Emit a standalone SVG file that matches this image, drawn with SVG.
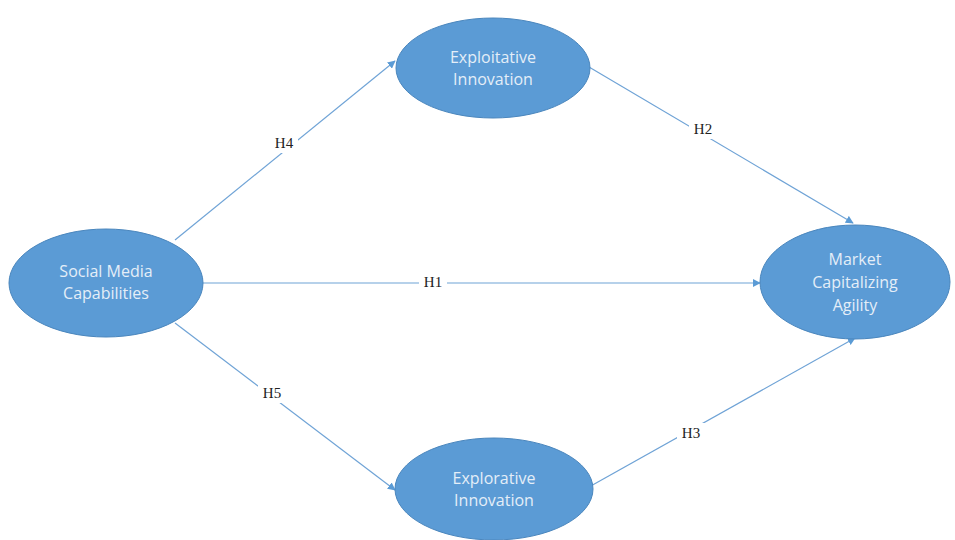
<svg xmlns="http://www.w3.org/2000/svg" width="955" height="540" viewBox="0 0 955 540">
<style>
.node{fill:#5b9bd5;stroke:#4a86bd;stroke-width:1}
.nt{font-family:"Open Sans","Liberation Sans",sans-serif;font-size:16px;fill:#e4eef8;text-anchor:middle}
.edge{stroke:#6fa3d6;stroke-width:1.2;fill:none;marker-end:url(#ah)}
.lb{font-family:"Liberation Serif",serif;font-size:15px;fill:#222;text-anchor:middle}
.bg{fill:#fff}
</style>
<defs>
<marker id="ah" viewBox="0 0 10 10" refX="9" refY="5" markerWidth="8" markerHeight="8" markerUnits="userSpaceOnUse" orient="auto">
<path d="M0,0 L10,5 L0,10 z" fill="#5b9bd5"/>
</marker>
</defs>
<rect width="955" height="540" fill="#fff"/>
<g id="connectors">
<line class="edge" x1="175" y1="240" x2="395" y2="61"/>
<line class="edge" x1="589" y1="67" x2="853" y2="223"/>
<line class="edge" x1="203" y1="283" x2="760" y2="283"/>
<line class="edge" x1="175" y1="323" x2="395" y2="490"/>
<line class="edge" x1="589" y1="487" x2="855" y2="338"/>
<rect class="bg" x="270" y="133" width="28" height="20"/>
<rect class="bg" x="689" y="119" width="28" height="20"/>
<rect class="bg" x="419" y="272" width="28" height="20"/>
<rect class="bg" x="258" y="383" width="28" height="20"/>
<rect class="bg" x="677" y="423" width="28" height="20"/>
<text class="lb" x="284" y="148">H4</text>
<text class="lb" x="703" y="134">H2</text>
<text class="lb" x="433" y="287">H1</text>
<text class="lb" x="272" y="398">H5</text>
<text class="lb" x="691" y="438">H3</text>
</g>
<g id="smc">
<ellipse class="node" cx="106" cy="283" rx="97" ry="54"/>
<text class="nt" x="106" y="277">Social Media</text>
<text class="nt" x="106" y="299">Capabilities</text>
</g>
<g id="exploit">
<ellipse class="node" cx="493" cy="68" rx="97" ry="50"/>
<text class="nt" x="493" y="63">Exploitative</text>
<text class="nt" x="493" y="85">Innovation</text>
</g>
<g id="mca">
<ellipse class="node" cx="855" cy="282" rx="95" ry="57"/>
<text class="nt" x="855" y="265">Market</text>
<text class="nt" x="855" y="288">Capitalizing</text>
<text class="nt" x="855" y="311">Agility</text>
</g>
<g id="explore">
<ellipse class="node" cx="494" cy="489" rx="99" ry="51"/>
<text class="nt" x="494" y="484">Explorative</text>
<text class="nt" x="494" y="506">Innovation</text>
</g>
</svg>
